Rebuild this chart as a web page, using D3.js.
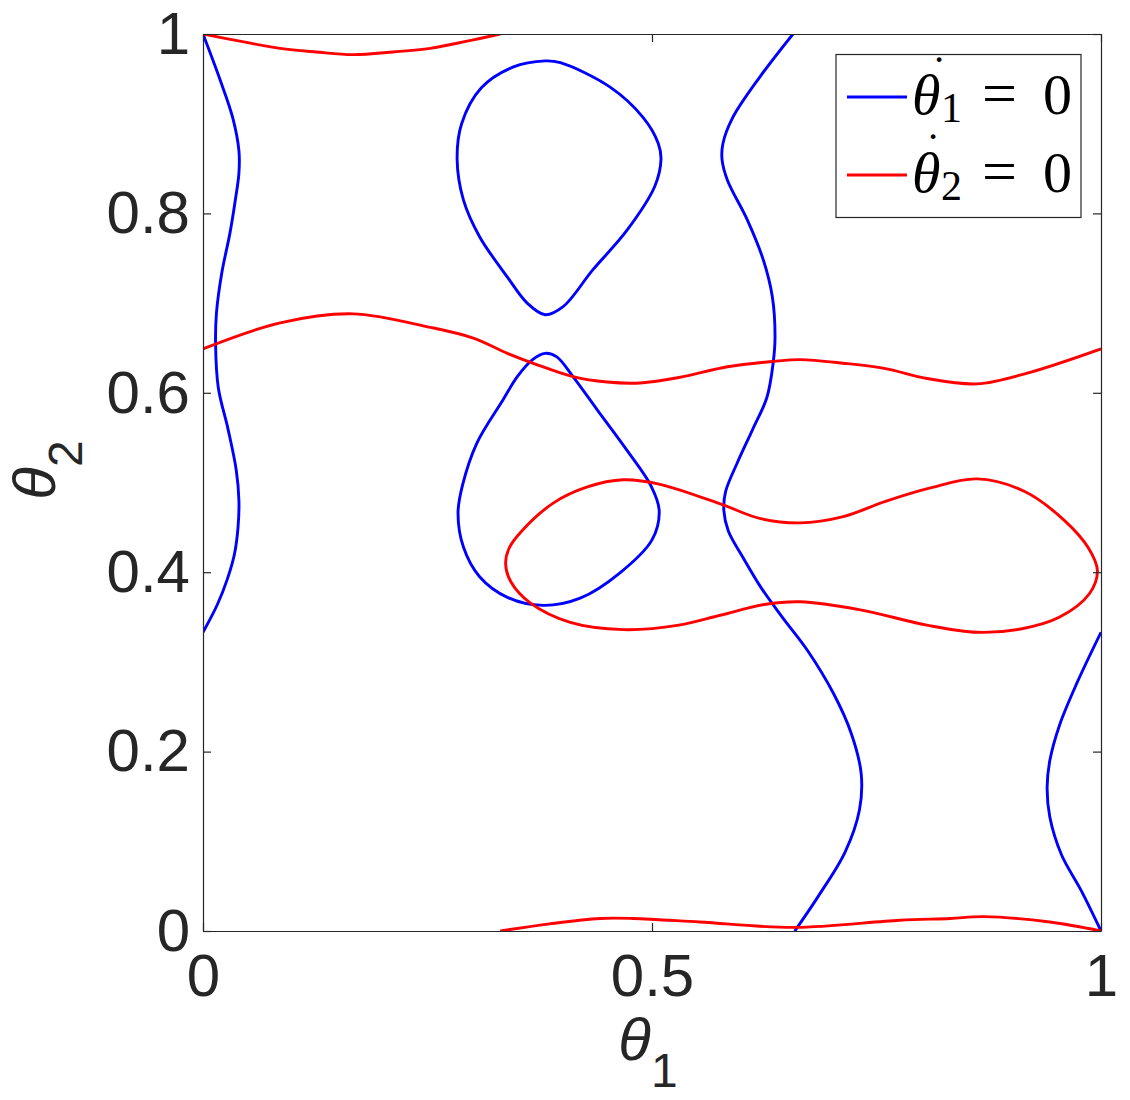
<!DOCTYPE html>
<html><head><meta charset="utf-8">
<script src="https://cdn.jsdelivr.net/npm/d3@7"></script>
<style>body{margin:0;background:#fff}</style>
</head><body>
<svg id="chart" width="1130" height="1100"></svg>
<script>
// ---- data (theta1, theta2) ----
const xTicks = [0, 0.5, 1];
const yTicks = [0, 0.2, 0.4, 0.6, 0.8, 1];
const xTickLabels = ["0", "0.5", "1"];
const yTickLabels = ["0", "0.2", "0.4", "0.6", "0.8", "1"];
const legendSubscripts = ["1", "2"];

// blue: dθ1/dt = 0
const blueLeft = [[0,1.0],[0.019,0.949],[0.033,0.907],[0.040,0.870],[0.040,0.845],[0.036,0.815],[0.030,0.778],[0.021,0.734],[0.015,0.689],[0.014,0.655],[0.017,0.606],[0.028,0.559],[0.037,0.514],[0.040,0.480],[0.039,0.450],[0.035,0.420],[0.027,0.392],[0.016,0.364],[0,0.333]];
const blueRight = [[1,0.333],[0.973,0.276],[0.954,0.230],[0.943,0.190],[0.940,0.160],[0.943,0.127],[0.956,0.085],[0.978,0.045],[1,0]];
const blueLoopTop = [[0.381,0.970],[0.398,0.968],[0.453,0.941],[0.490,0.907],[0.507,0.878],[0.510,0.860],[0.503,0.830],[0.472,0.781],[0.434,0.737],[0.401,0.696],[0.381,0.687],[0.361,0.700],[0.339,0.729],[0.308,0.774],[0.290,0.815],[0.283,0.860],[0.288,0.900],[0.310,0.940],[0.345,0.963]];
const blueLoopBottom = [[0.381,0.644],[0.394,0.640],[0.412,0.618],[0.439,0.581],[0.472,0.536],[0.499,0.496],[0.508,0.469],[0.500,0.436],[0.464,0.399],[0.420,0.371],[0.379,0.363],[0.339,0.372],[0.308,0.395],[0.290,0.428],[0.284,0.466],[0.289,0.497],[0.305,0.544],[0.334,0.592],[0.350,0.618],[0.367,0.637]];
const blueMid = [[0.657,1.0],[0.620,0.952],[0.590,0.907],[0.579,0.878],[0.578,0.860],[0.584,0.837],[0.606,0.793],[0.624,0.748],[0.634,0.707],[0.637,0.662],[0.635,0.634],[0.628,0.595],[0.612,0.559],[0.595,0.522],[0.582,0.490],[0.580,0.469],[0.585,0.446],[0.601,0.417],[0.622,0.382],[0.645,0.350],[0.673,0.313],[0.702,0.265],[0.722,0.220],[0.733,0.175],[0.731,0.135],[0.715,0.088],[0.686,0.040],[0.659,0]];

// red: dθ2/dt = 0
const redTop = [[0,1.0],[0.041,0.992],[0.086,0.984],[0.126,0.980],[0.167,0.977],[0.212,0.980],[0.253,0.984],[0.294,0.992],[0.331,1.0]];
const redBottom = [[0.331,0],[0.386,0.008],[0.442,0.014],[0.479,0.014],[0.553,0.010],[0.659,0.004],[0.776,0.012],[0.832,0.014],[0.869,0.016],[0.943,0.010],[1,0]];
const redWave = [[0,0.649],[0.086,0.678],[0.167,0.688],[0.253,0.673],[0.301,0.661],[0.339,0.644],[0.370,0.632],[0.412,0.618],[0.450,0.612],[0.487,0.611],[0.530,0.617],[0.584,0.629],[0.635,0.635],[0.665,0.637],[0.713,0.633],[0.760,0.627],[0.806,0.616],[0.862,0.610],[0.918,0.622],[1,0.649]];
const redLoop = [[0.337,0.409],[0.341,0.427],[0.355,0.446],[0.390,0.477],[0.428,0.495],[0.468,0.503],[0.509,0.498],[0.579,0.475],[0.620,0.460],[0.665,0.455],[0.713,0.462],[0.760,0.479],[0.810,0.494],[0.862,0.504],[0.915,0.490],[0.960,0.457],[0.986,0.427],[0.996,0.402],[0.987,0.376],[0.954,0.350],[0.912,0.337],[0.862,0.333],[0.806,0.341],[0.732,0.358],[0.665,0.367],[0.625,0.364],[0.576,0.352],[0.530,0.341],[0.468,0.336],[0.409,0.344],[0.364,0.366],[0.343,0.389]];

const blueOpen = [blueLeft, blueRight, blueMid];
const blueClosed = [blueLoopTop, blueLoopBottom];
const redOpen = [redTop, redBottom, redWave];
const redClosed = [redLoop];

// ---- layout ----
const L = 203, R = 1101, T = 34, B = 931;
const axisColor = "#262626";
const svg = d3.select("#chart");
const x = d3.scaleLinear().domain([0, 1]).range([L, R]);
const y = d3.scaleLinear().domain([0, 1]).range([B, T]);

svg.append("defs").append("clipPath").attr("id", "clip")
  .append("rect").attr("x", L).attr("y", T).attr("width", R - L).attr("height", B - T);

const plot = svg.append("g").attr("clip-path", "url(#clip)");
const lineOpen = d3.line().x(d => x(d[0])).y(d => y(d[1])).curve(d3.curveCatmullRom.alpha(0.5));
const lineClosed = d3.line().x(d => x(d[0])).y(d => y(d[1])).curve(d3.curveCatmullRomClosed.alpha(0.5));

function draw(arr, gen, color) {
  plot.selectAll(null).data(arr).enter().append("path")
    .attr("d", gen).attr("fill", "none").attr("stroke", color)
    .attr("stroke-width", 2.9).attr("stroke-linejoin", "round");
}
draw(blueOpen, lineOpen, "#0000ff");
draw(blueClosed, lineClosed, "#0000ff");
draw(redOpen, lineOpen, "#ff0000");
draw(redClosed, lineClosed, "#ff0000");

// ---- axes ----
const font = "'Liberation Sans', Arial, Helvetica, sans-serif";
const gx = svg.append("g").attr("transform", `translate(0,${B})`)
  .call(d3.axisBottom(x).tickValues(xTicks).tickFormat((d, i) => xTickLabels[i]).tickSize(-8).tickSizeOuter(0).tickPadding(22));
const gy = svg.append("g").attr("transform", `translate(${L},0)`)
  .call(d3.axisLeft(y).tickValues(yTicks).tickFormat((d, i) => yTickLabels[i]).tickSize(-8).tickSizeOuter(0).tickPadding(13));
const gt = svg.append("g").attr("transform", `translate(0,${T})`)
  .call(d3.axisTop(x).tickValues(xTicks).tickFormat("").tickSize(-8).tickSizeOuter(0));
const gr = svg.append("g").attr("transform", `translate(${R},0)`)
  .call(d3.axisRight(y).tickValues(yTicks).tickFormat("").tickSize(-8).tickSizeOuter(0));
[gx, gy, gt, gr].forEach(g => {
  g.selectAll("path, line").attr("stroke", axisColor).attr("stroke-width", 1.2);
  g.selectAll("text").attr("fill", axisColor).style("font-family", font).style("font-size", "60px");
});

// axis labels
const xl = svg.append("text").attr("x", 648).attr("y", 1060).attr("text-anchor", "middle")
  .style("font-family", font).attr("fill", axisColor);
xl.append("tspan").text("θ").style("font-style", "italic").style("font-size", "60px");
xl.append("tspan").text("1").attr("dy", 27).style("font-size", "48px");

const yl = svg.append("text").attr("transform", "translate(55,470) rotate(-90)").attr("text-anchor", "middle")
  .style("font-family", font).attr("fill", axisColor);
yl.append("tspan").text("θ").style("font-style", "italic").style("font-size", "60px");
yl.append("tspan").text("2").attr("dy", 27).style("font-size", "48px");

// ---- legend ----
const lg = svg.append("g");
lg.append("rect").attr("x", 836).attr("y", 54.5).attr("width", 245).attr("height", 163)
  .attr("fill", "#fff").attr("stroke", axisColor).attr("stroke-width", 1.2);
const serif = "'Liberation Serif', 'Times New Roman', serif";
const rows = [{c: "#0000ff", ly: 97, by: 114, dx: 939, dy: 61, sub: legendSubscripts[0]},
              {c: "#ff0000", ly: 175, by: 192, dx: 933, dy: 138, sub: legendSubscripts[1]}];
rows.forEach(r => {
  lg.append("line").attr("x1", 847).attr("x2", 907).attr("y1", r.ly).attr("y2", r.ly)
    .attr("stroke", r.c).attr("stroke-width", 2.9);
  const t = lg.append("text").style("font-family", serif).attr("fill", "#000");
  t.append("tspan").attr("x", 912).attr("y", r.by).text("θ").style("font-style", "italic").style("font-size", "58px");
  t.append("tspan").attr("x", 941).attr("y", r.by + 8).text(r.sub).style("font-size", "42px");
  t.append("tspan").attr("x", 982).attr("y", r.by).text("=").style("font-size", "62px");
  t.append("tspan").attr("x", 1043).attr("y", r.by).text("0").style("font-size", "58px");
  // time-derivative dot over theta
  lg.append("text").attr("x", r.dx).attr("y", r.dy + 26).attr("text-anchor", "middle")
    .style("font-family", serif).style("font-size", "44px").attr("fill", "#000").text("˙");
});
</script>
</body></html>
